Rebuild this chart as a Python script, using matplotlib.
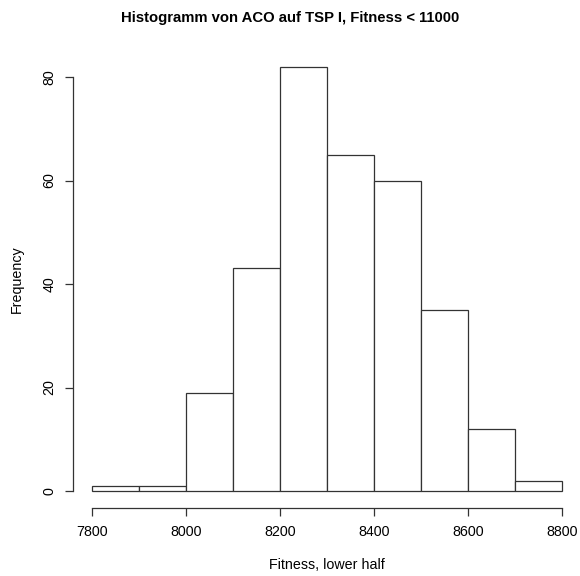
import matplotlib
matplotlib.use("Agg")
import matplotlib.pyplot as plt
import numpy as np

# bin edges and counts
bin_edges = [7800, 7900, 8000, 8100, 8200, 8300, 8400, 8500, 8600, 8700, 8800]
counts = [1, 1, 19, 43, 82, 65, 60, 35, 12, 2]
x_ticks = [7800, 8000, 8200, 8400, 8600, 8800]
y_ticks = [0, 20, 40, 60, 80]

plt.rcParams['font.family'] = ['Liberation Sans', 'DejaVu Sans']

W, H = 580, 576
fig = plt.figure(figsize=(W / 100, H / 100), dpi=100)
# plot region in pixels (R-like margins)
left, right, top, bottom = 73.2, 580.8, 49.7, 508.0
ax = fig.add_axes([left / W, 1 - bottom / H, (right - left) / W, (bottom - top) / H])

edges = np.array(bin_edges)
ax.bar(edges[:-1], counts, width=np.diff(edges), align='edge',
       facecolor='white', edgecolor='#333333', linewidth=0.9)

# R style 4% axis extension
xr = edges[-1] - edges[0]
ax.set_xlim(edges[0] - 0.04 * xr, edges[-1] + 0.04 * xr)
ymax = max(counts)
ax.set_ylim(-0.04 * ymax, ymax * 1.04)

for s in ['top', 'right']:
    ax.spines[s].set_visible(False)
ax.spines['left'].set_bounds(y_ticks[0], y_ticks[-1])
ax.spines['bottom'].set_bounds(x_ticks[0], x_ticks[-1])
for s in ['left', 'bottom']:
    ax.spines[s].set_linewidth(0.9)
    ax.spines[s].set_color('#333333')

ax.set_xticks(x_ticks)
ax.set_yticks(y_ticks)
ax.set_yticklabels([str(v) for v in y_ticks], rotation=90, va='center')
ax.tick_params(length=6, width=0.9, color='#333333', labelsize=10.3)
ax.tick_params(axis='x', pad=6)
ax.tick_params(axis='y', pad=6)

ax.set_xlabel('Fitness, lower half', fontsize=10.3)
ax.set_ylabel('Frequency', fontsize=10.3)
ax.xaxis.set_label_coords(0.5, (bottom - 565) / (bottom - top))
ax.xaxis.label.set_va('center')
ax.yaxis.set_label_coords((17 - left) / (right - left), 0.5)
ax.yaxis.label.set_va('center')
fig.text(290 / W, 1 - 18 / H,
         'Histogramm von ACO auf TSP I, Fitness < 11000',
         ha='center', va='center', fontsize=10.7, fontweight='bold')

fig.savefig('out.png', dpi=100)
